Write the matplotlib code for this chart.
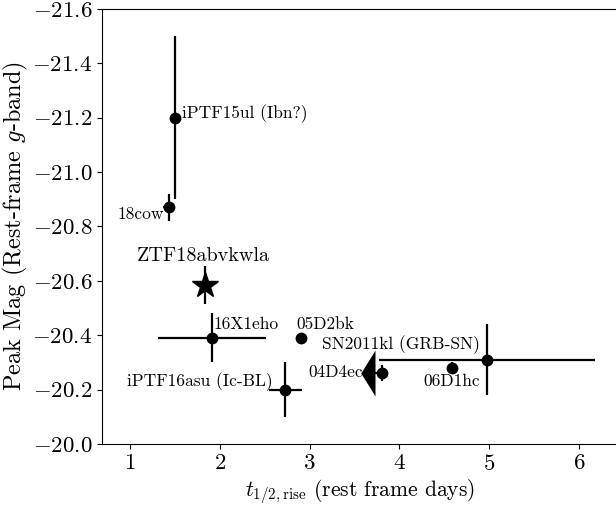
"""
Peak magnitude versus rise time for fast luminous transients.
"""

import matplotlib

matplotlib.use("Agg")
import matplotlib.pyplot as plt
from matplotlib.path import Path

plt.rcParams.update(
    {
        "font.family": "serif",
        "font.serif": ["cmr10"],
        "mathtext.fontset": "cm",
        "axes.formatter.use_mathtext": True,
        "axes.unicode_minus": True,
    }
)

names = [
    "iPTF15ul (Ibn?)",
    "18cow",
    "16X1eho",
    "05D2bk",
    "iPTF16asu (Ic-BL)",
    "04D4ec",
    "06D1hc",
    "SN2011kl (GRB-SN)",
]
t_rise = [1.50, 1.43, 1.91, 2.905, 2.73, 3.81, 4.59, 4.975]
t_err_lo = [0.0, 0.06, 0.60, 0.0, 0.18, 0.085, 0.0, 1.20]
t_err_hi = [0.0, 0.06, 0.60, 0.0, 0.19, 0.0, 0.0, 1.20]
t_is_limit = [False, False, False, False, False, True, False, False]
peak_mag = [-21.20, -20.87, -20.39, -20.39, -20.20, -20.26, -20.28, -20.31]
mag_err = [0.30, 0.05, 0.09, 0.0, 0.10, 0.03, 0.02, 0.13]

ztf_name = "ZTF18abvkwla"
ztf_t = 1.835
ztf_mag = -20.585
ztf_err = 0.07

# label placement: (dx, dy) in points, horizontal alignment
label_pos = {
    "iPTF15ul (Ibn?)": (4.8, 3.2, "left"),
    "18cow": (-3.6, -5.0, "right"),
    "16X1eho": (1.0, 10.0, "left"),
    "05D2bk": (-3.0, 10.0, "left"),
    "iPTF16asu (Ic-BL)": (-9.4, 6.0, "right"),
    "04D4ec": (-14.0, 0.7, "right"),
    "06D1hc": (-20.6, -9.7, "left"),
    "SN2011kl (GRB-SN)": (-5.0, 11.0, "right"),
}

# thin left-pointing arrowhead for the rise-time upper limit
arrow = Path([(-0.62, 0.0), (0.0, 1.0), (0.0, -1.0), (-0.62, 0.0)],
             [Path.MOVETO, Path.LINETO, Path.LINETO, Path.CLOSEPOLY])


def main():
    fig = plt.figure(figsize=(6.16, 5.05), dpi=100)
    ax = fig.add_axes([0.1656, 0.1208, 0.839, 0.8614])

    ax.errorbar(
        t_rise,
        peak_mag,
        xerr=[t_err_lo, t_err_hi],
        yerr=mag_err,
        fmt="o",
        color="k",
        ms=7.5,
        elinewidth=1.6,
        capsize=0,
    )
    for t, lo, m, lim in zip(t_rise, t_err_lo, peak_mag, t_is_limit):
        if lim:
            ax.plot(t - lo, m, marker=arrow, ms=33, color="k", mew=0)

    ax.errorbar(ztf_t, ztf_mag, yerr=ztf_err, fmt="*", color="k",
                ms=19, elinewidth=1.6)
    ax.annotate(ztf_name, (ztf_t, ztf_mag), xytext=(-1.5, 21),
                textcoords="offset points", ha="center", va="center",
                fontsize=14.5)

    for name, t, m in zip(names, t_rise, peak_mag):
        dx, dy, ha = label_pos[name]
        ax.annotate(name, (t, m), xytext=(dx, dy), textcoords="offset points",
                    ha=ha, va="center", fontsize=12.5)

    ax.set_xlim(0.688, 6.445)
    ax.set_ylim(-20.0, -21.6)
    ax.set_xticks([1, 2, 3, 4, 5, 6])
    ax.set_yticks([-20.0, -20.2, -20.4, -20.6, -20.8, -21.0, -21.2, -21.4, -21.6])
    ax.tick_params(labelsize=16.5)
    ax.set_xlabel(r"$t_{1/2,\mathrm{rise}}$ (rest frame days)", fontsize=15.5,
                  labelpad=3)
    ax.set_ylabel(r"Peak Mag (Rest-frame $g$-band)", fontsize=17.5)
    ax.yaxis.set_label_coords(-0.139, 0.5)

    fig.savefig("out.png", dpi=100)


if __name__ == "__main__":
    main()
